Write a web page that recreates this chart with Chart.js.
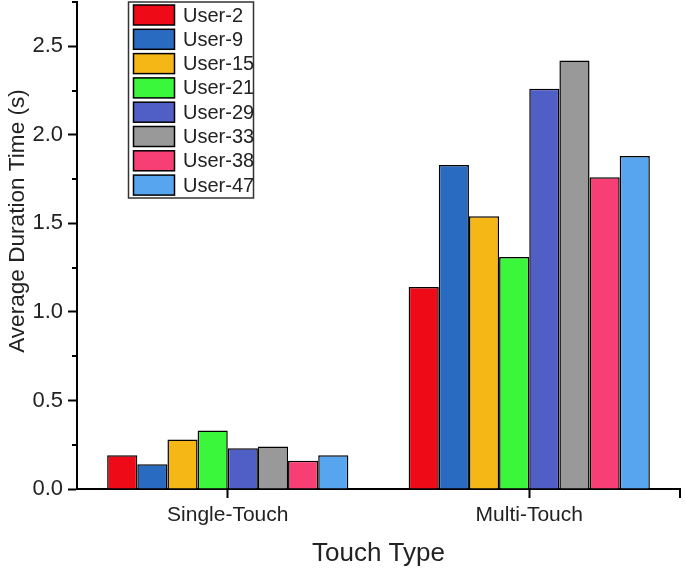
<!DOCTYPE html>
<html>
<head>
<meta charset="utf-8">
<title>Average Duration Time by Touch Type</title>
<script src="https://cdn.jsdelivr.net/npm/chart.js@4.4.1/dist/chart.umd.min.js"></script>
<style>
    html, body { margin: 0; padding: 0; background: #fff; }
    #chart { display: block; }
</style>
</head>
<body>
<canvas id="chart" width="685" height="568"></canvas>
<script>
// Veriler
const touchTypes = ['Single-Touch', 'Multi-Touch'];
const users = ['User-2', 'User-9', 'User-15', 'User-21', 'User-29', 'User-33', 'User-38', 'User-47'];
const singleTouch = [0.19, 0.14, 0.28, 0.33, 0.23, 0.24, 0.16, 0.19];
const multiTouch = [1.14, 1.83, 1.54, 1.31, 2.26, 2.42, 1.76, 1.88];
const userColors = ['#EF0A17', '#2A6BC2', '#F5B716', '#3BF73B', '#4F5FC6', '#999999', '#F73F76', '#57A5EE'];
const yMajorTicks = [0, 0.5, 1.0, 1.5, 2.0, 2.5];
const yMinorTicks = [0.25, 0.75, 1.25, 1.75, 2.25, 2.75];

const FONT = '"Liberation Sans", Arial, sans-serif';
const INK = '#222';

// Kullanıcı başına bir dataset
const datasets = users.map((name, i) => ({
    label: name,
    data: [singleTouch[i], multiTouch[i]],
    backgroundColor: userColors[i],
    borderColor: '#000',
    borderWidth: 1.5,
    borderSkipped: 'bottom'
}));

// Eksen başlıkları, küçük tikler ve kutulu lejant
const decorPlugin = {
    id: 'decor',
    afterDraw(chart) {
        const ctx = chart.ctx;
        const y = chart.scales.y;
        const area = chart.chartArea;
        ctx.save();

        // minor ticks on y
        ctx.strokeStyle = '#000';
        ctx.lineWidth = 2;
        yMinorTicks.forEach(v => {
            const py = Math.round(y.getPixelForValue(v));
            ctx.beginPath();
            ctx.moveTo(area.left - 5, py);
            ctx.lineTo(area.left, py);
            ctx.stroke();
        });
        // end tick on x
        ctx.beginPath();
        ctx.moveTo(area.right, area.bottom);
        ctx.lineTo(area.right, area.bottom + 9);
        ctx.stroke();

        // axis titles
        ctx.fillStyle = INK;
        ctx.textAlign = 'center';
        ctx.textBaseline = 'alphabetic';
        ctx.font = '26px ' + FONT;
        ctx.fillText('Touch Type', (area.left + area.right) / 2, 561);

        ctx.save();
        ctx.translate(24, 221);
        ctx.rotate(-Math.PI / 2);
        ctx.font = '22.6px ' + FONT;
        ctx.fillText('Average Duration Time (s)', 0, 0);
        ctx.restore();

        // legend
        const boxX = 128.5, boxY = 2, rowH = 24.3;
        ctx.fillStyle = '#fff';
        ctx.fillRect(boxX, boxY, 125, 196);
        ctx.strokeStyle = '#333';
        ctx.lineWidth = 1.5;
        ctx.strokeRect(boxX, boxY, 125, 196);
        ctx.font = '20px ' + FONT;
        ctx.textAlign = 'left';
        ctx.textBaseline = 'middle';
        chart.data.datasets.forEach((ds, i) => {
            const top = 5 + rowH * i;
            ctx.fillStyle = ds.backgroundColor;
            ctx.fillRect(133.5, top, 41, 20);
            ctx.strokeStyle = '#000';
            ctx.lineWidth = 1.5;
            ctx.strokeRect(133.5, top, 41, 20);
            ctx.fillStyle = INK;
            ctx.fillText(ds.label, 183, top + 11);
        });
        ctx.restore();
    }
};

new Chart(document.getElementById('chart'), {
    type: 'bar',
    data: { labels: touchTypes, datasets: datasets },
    options: {
        responsive: false,
        animation: false,
        layout: { padding: { left: 0, top: 2, right: 5, bottom: 0 } },
        categoryPercentage: 0.8,
        barPercentage: 1.0,
        plugins: {
            legend: { display: false },
            tooltip: { enabled: false }
        },
        scales: {
            x: {
                grid: {
                    offset: false,
                    drawOnChartArea: false,
                    tickLength: 9,
                    tickWidth: 2,
                    tickColor: '#000'
                },
                border: { color: '#000', width: 2 },
                ticks: {
                    color: INK,
                    font: { family: FONT, size: 21 },
                    padding: 5,
                    maxRotation: 0
                },
                afterFit: s => {
                    s.height = 79;
                    s.paddingLeft = 0;
                    s.paddingRight = 0;
                }
            },
            y: {
                min: 0,
                max: 2.75,
                afterBuildTicks: s => { s.ticks = yMajorTicks.map(v => ({ value: v })); },
                grid: {
                    drawOnChartArea: false,
                    tickLength: 9,
                    tickWidth: 2,
                    tickColor: '#000'
                },
                border: { color: '#000', width: 2 },
                ticks: {
                    color: INK,
                    font: { family: FONT, size: 22 },
                    padding: 5,
                    callback: v => Number(v).toFixed(1)
                },
                afterFit: s => {
                    s.width = 77;
                    s.paddingTop = 0;
                    s.paddingBottom = 0;
                }
            }
        }
    },
    plugins: [decorPlugin]
});
</script>
</body>
</html>
